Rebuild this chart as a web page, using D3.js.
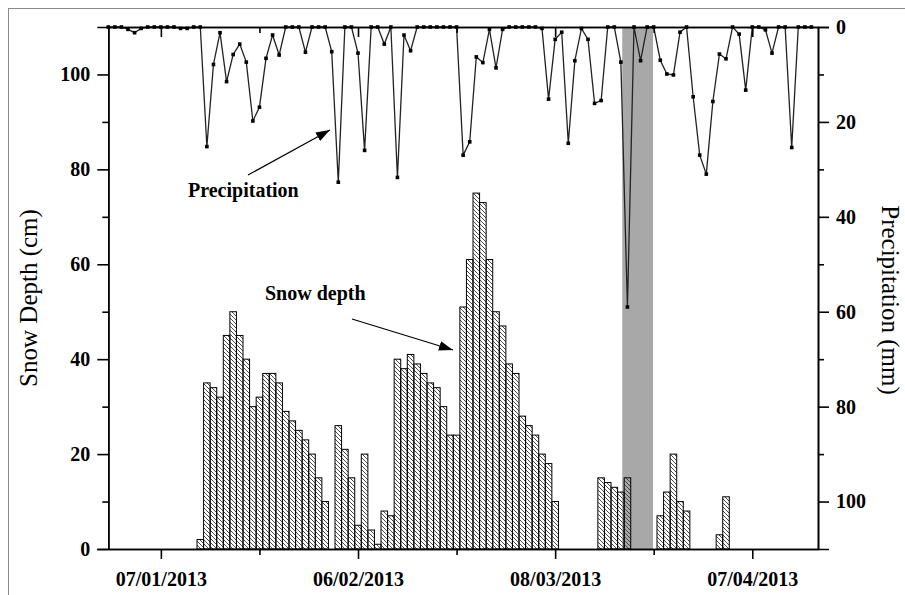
<!DOCTYPE html>
<meta charset="utf-8">
<style>
body { margin: 0; background: #fff; }
svg { display: block; }
text { font-family: "Liberation Serif", "Times New Roman", serif; fill: #000; }
.tick text { font-weight: bold; font-size: 20px; }
.axis path, .axis line { stroke: #000; stroke-width: 1.6px; }
.note { font-weight: bold; font-size: 20px; }
.title { font-size: 25px; }
</style>
<svg width="905" height="595"></svg>
<script src="https://cdn.jsdelivr.net/npm/d3@7"></script>
<script>

// daily precipitation (mm), starting 30/12/2012
var precipStart = "2012-12-30";
var precipMm = [
  0, 0, 0, 0.5, 1.2, 0.3, 0, 0,
  0, 0, 0, 0.3, 0.3, 0, 0, 25.2, 7.9, 1.2,
  11.5, 5.8, 3.6, 7.4, 19.8, 16.9, 6.6, 1.7, 5.9, 0,
  0, 0, 5.3, 0, 0, 0, 5.2, 32.7, 0, 0,
  5.5, 26, 0, 0, 3.6, 0, 31.7, 1.7, 5, 0,
  0, 0, 0, 0, 0, 0, 27, 24.2, 6.3, 7.5,
  0.5, 8.6, 0.5, 0, 0, 0, 0, 0, 0.3, 15.2,
  2.6, 1.1, 24.5, 7.1, 0.3, 2.6, 16.1, 15.5, 0, 0,
  7.4, 59, 0, 7.1, 0, 0, 7, 9.9, 10.1, 1.1,
  0, 14.7, 27, 31, 15.7, 5.7, 6.7, 0, 1.5, 13.3,
  0, 0, 0.6, 5.5, 0, 0, 25.4, 0, 0, 0
];

// daily snow depth (cm), starting 13/01/2013
var snowStart = "2013-01-13";
var snowCm = [
  2, 35, 34, 32, 45, 50, 45, 40, 30, 32, 37, 37, 35, 29, 27, 25, 23, 20, 15, 10,
  0, 26, 21, 15, 5, 20, 4, 1,
  8, 7, 40, 38, 41, 39, 37, 35, 34, 30, 24, 24, 51, 61, 75, 73, 61, 50, 47, 39,
  37, 28, 26, 24, 20, 18, 10,
  0, 0, 0, 0, 0, 0,
  15, 14, 13, 12, 15,
  0, 0, 0, 0,
  7, 12, 20, 10, 8,
  0, 0, 0, 0,
  3, 11
];

var shadeSpan = ["2013-03-18T05:00Z", "2013-03-22T21:30Z"];
var xDomain = ["2012-12-30", "2013-04-17"];
var majorDates = ["2013-01-07", "2013-02-06", "2013-03-08", "2013-04-07"];
var minorDates = ["2013-01-22", "2013-02-21", "2013-03-23"];
var depthMajor = [0, 20, 40, 60, 80, 100], depthMinor = [10, 30, 50, 70, 90];
var precipMajor = [0, 20, 40, 60, 80, 100], precipMinor = [10, 30, 50, 70, 90];

var plotLeft = 108.3, plotRight = 818, plotTop = 27, plotBottom = 549;

var svg = d3.select("svg");
var parse = function(s) { return new Date(s.length > 10 ? s : s + "T00:00Z"); };

var x = d3.scaleUtc().domain(xDomain.map(parse)).range([plotLeft, plotRight]);
var yL = d3.scaleLinear().domain([0, 110]).range([plotBottom, plotTop]);
var yR = d3.scaleLinear().domain([0, 110]).range([plotTop, plotBottom]);

var p0 = parse(precipStart), s0 = parse(snowStart);
var precip = precipMm.map(function(v, i) { return {date: d3.utcDay.offset(p0, i), v: v}; });
var snow = snowCm.map(function(v, i) { return {date: d3.utcDay.offset(s0, i), v: v}; })
    .filter(function(d) { return d.v > 0; });

// frame around the figure
svg.append("rect").attr("x", 8.5).attr("y", 8.5).attr("width", 920).attr("height", 620)
    .attr("fill", "none").attr("stroke", "#8a8a8a");

var defs = svg.append("defs");
defs.append("pattern")
    .attr("id", "hatch").attr("patternUnits", "userSpaceOnUse")
    .attr("width", 4).attr("height", 4)
  .append("path")
    .attr("d", "M-1,-1l2,2M0,0l4,4M3,3l2,2")
    .attr("stroke", "#444").attr("stroke-width", 0.9);

// shaded period
svg.append("rect")
    .attr("x", x(parse(shadeSpan[0])))
    .attr("width", x(parse(shadeSpan[1])) - x(parse(shadeSpan[0])))
    .attr("y", plotTop).attr("height", plotBottom - plotTop)
    .attr("fill", "#a8a8a8");

var bw = x(d3.utcDay.offset(s0, 1)) - x(s0);

svg.append("g").selectAll("rect").data(snow).join("rect")
    .attr("x", function(d) { return x(d.date) - bw / 2; })
    .attr("width", bw)
    .attr("y", function(d) { return yL(d.v); })
    .attr("height", function(d) { return yL(0) - yL(d.v); })
    .attr("fill", "url(#hatch)")
    .attr("stroke", "#000").attr("stroke-width", 1);

var line = d3.line()
    .x(function(d) { return x(d.date); })
    .y(function(d) { return yR(d.v); });

svg.append("path").datum(precip)
    .attr("d", line)
    .attr("fill", "none").attr("stroke", "#222").attr("stroke-width", 1.3);

svg.append("g").selectAll("rect").data(precip).join("rect")
    .attr("x", function(d) { return x(d.date) - 1.8; })
    .attr("y", function(d) { return yR(d.v) - 1.8; })
    .attr("width", 3.6).attr("height", 3.6)
    .attr("fill", "#000");

// axes
var fmt = d3.utcFormat("%d/%m/%Y");

svg.append("g").attr("class", "axis").attr("transform", "translate(0," + plotBottom + ")")
    .call(d3.axisBottom(x).tickValues(majorDates.map(parse)).tickFormat(fmt)
        .tickSize(10).tickSizeOuter(0).tickPadding(13));
svg.append("g").attr("class", "axis").attr("transform", "translate(0," + plotBottom + ")")
    .call(d3.axisBottom(x).tickValues(minorDates.map(parse)).tickFormat("")
        .tickSize(6).tickSizeOuter(0));

svg.append("g").attr("class", "axis").attr("transform", "translate(0," + plotTop + ")")
    .call(d3.axisBottom(x).tickValues(majorDates.map(parse)).tickFormat("")
        .tickSize(10).tickSizeOuter(0));
svg.append("g").attr("class", "axis").attr("transform", "translate(0," + plotTop + ")")
    .call(d3.axisBottom(x).tickValues(minorDates.map(parse)).tickFormat("")
        .tickSize(6).tickSizeOuter(0));

svg.append("g").attr("class", "axis").attr("transform", "translate(" + plotLeft + ",0)")
    .call(d3.axisLeft(yL).tickValues(depthMajor).tickSize(11).tickSizeOuter(11).tickPadding(7));
svg.append("g").attr("class", "axis").attr("transform", "translate(" + plotLeft + ",0)")
    .call(d3.axisLeft(yL).tickValues(depthMinor).tickFormat("").tickSize(6).tickSizeOuter(0));

svg.append("g").attr("class", "axis").attr("transform", "translate(" + plotRight + ",0)")
    .call(d3.axisRight(yR).tickValues(precipMajor).tickSize(11).tickSizeOuter(11).tickPadding(7));
svg.append("g").attr("class", "axis").attr("transform", "translate(" + plotRight + ",0)")
    .call(d3.axisRight(yR).tickValues(precipMinor).tickFormat("").tickSize(6).tickSizeOuter(0));

// axis titles
svg.append("text").attr("class", "title")
    .attr("transform", "translate(37,298) rotate(-90)")
    .attr("text-anchor", "middle").text("Snow Depth (cm)");
svg.append("text").attr("class", "title")
    .attr("transform", "translate(882,300) rotate(90)")
    .attr("text-anchor", "middle").text("Precipitation (mm)");

// annotations
defs.append("marker")
    .attr("id", "head").attr("viewBox", "0 0 10 10")
    .attr("refX", 10).attr("refY", 5)
    .attr("markerWidth", 14).attr("markerHeight", 14)
    .attr("markerUnits", "userSpaceOnUse").attr("orient", "auto")
  .append("path").attr("d", "M0,1.5L10,5L0,8.5Z").attr("fill", "#000");

svg.append("text").attr("class", "note").attr("x", 188).attr("y", 197).text("Precipitation");
svg.append("line").attr("x1", 248).attr("y1", 175).attr("x2", 330).attr("y2", 130)
    .attr("stroke", "#000").attr("stroke-width", 1.2).attr("marker-end", "url(#head)");

svg.append("text").attr("class", "note").attr("x", 265).attr("y", 300).text("Snow depth");
svg.append("line").attr("x1", 352).attr("y1", 319).attr("x2", 453).attr("y2", 350)
    .attr("stroke", "#000").attr("stroke-width", 1.2).attr("marker-end", "url(#head)");

</script>
